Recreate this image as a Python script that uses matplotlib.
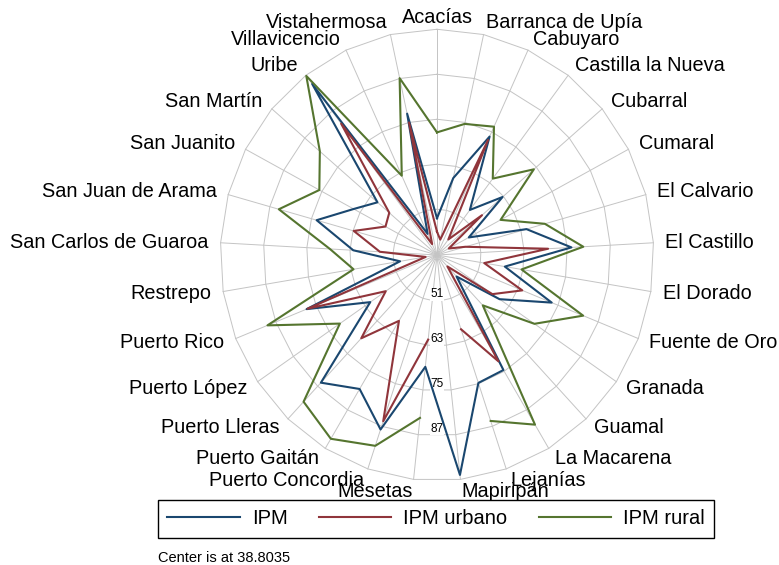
import numpy as np
import matplotlib.pyplot as plt

# municipios del Meta, en el orden del gráfico (sentido horario desde arriba)
municipios = ["Acacías", "Barranca de Upía", "Cabuyaro", "Castilla la Nueva", "Cubarral",
              "Cumaral", "El Calvario", "El Castillo", "El Dorado", "Fuente de Oro",
              "Granada", "Guamal", "La Macarena", "Lejanías", "Mapiripán", "Mesetas",
              "Puerto Concordia", "Puerto Gaitán", "Puerto Lleras", "Puerto López",
              "Puerto Rico", "Restrepo", "San Carlos de Guaroa", "San Juan de Arama",
              "San Juanito", "San Martín", "Uribe", "Villavicencio", "Vistahermosa"]

ipm = [48.6, 59.8, 73.6, 53.9, 62.7, 48.8, 64.6, 76.2, 57.9, 73.1,
       59.8, 46.7, 74.6, 74.8, 97.8, 68.8, 87.9, 80.5, 85.7, 61.2,
       77.8, 49.2, 62.1, 73.5, 65.0, 60.5, 96.1, 45.0, 77.4]
ipm_urbano = [45.0, 43.0, 72.6, 44.0, 55.2, 42.5, 47.0, 69.7, 52.1, 64.3,
              57.4, 43.0, 71.9, 59.7, np.nan, 61.5, 85.6, 59.3, 69.4, 56.0,
              77.5, 42.0, 54.7, 62.8, 55.0, 56.2, 82.8, 42.0, 75.0]
ipm_rural = [71.5, 74.6, 76.5, 64.4, 74.1, 58.8, 69.9, 79.5, 62.6, 82.5,
             71.5, 57.3, 91.6, 85.5, np.nan, 82.5, 92.5, 96.0, 92.7, 71.4,
             89.5, 62.3, 68.6, 84.4, 75.8, 81.5, 98.8, 62.1, 87.1]

centro = 38.8035
anillos = [51, 63, 75, 87, 99]

plt.rcParams['font.family'] = ['Liberation Sans', 'DejaVu Sans']

n = len(municipios)
ang = 2 * np.pi * np.arange(n) / n


def xy(valores, cerrar=True):
    r = np.asarray(valores, dtype=float) - centro
    a = ang
    if cerrar:
        r = np.append(r, r[0])
        a = np.append(ang, ang[0])
    return r * np.sin(a), r * np.cos(a)


fig = plt.figure(figsize=(7.79, 5.65), dpi=100)
ax = fig.add_axes([0, 0, 1, 1])
ax.set_xlim(-437 / 3.6, 342 / 3.6)
ax.set_ylim(-310 / 3.75, 255 / 3.75)
ax.axis('off')

gris = '#c4c4c4'
R = anillos[-1] - centro
for a in ang:
    ax.plot([0, R * np.sin(a)], [0, R * np.cos(a)], color=gris, lw=0.7, zorder=1)
for v in anillos:
    x, y = xy([v] * n)
    ax.plot(x, y, color=gris, lw=0.7, zorder=1)
for v in anillos[:-1]:
    ax.annotate(str(v), xy=(0, -(v - centro) * np.cos(np.pi / n)), xytext=(0, 6),
                textcoords='offset pixels', ha='center', va='center', fontsize=8.5,
                bbox=dict(facecolor='white', edgecolor='none', pad=0.5), zorder=2)

series = [(ipm, '#1a476f', 'IPM'), (ipm_urbano, '#90353b', 'IPM urbano'),
          (ipm_rural, '#55752f', 'IPM rural')]
for vals, color, nombre in series:
    x, y = xy(vals)
    ax.plot(x, y, color=color, lw=1.5, label=nombre, zorder=3)

for a, nombre in zip(ang, municipios):
    s, c = np.sin(a), np.cos(a)
    ha = 'left' if s > 0.01 else ('right' if s < -0.01 else 'center')
    ax.annotate(nombre, xy=(R * s, R * c), xytext=(12 * s, 12 * c),
                textcoords='offset pixels', ha=ha, va='center', fontsize=14.3,
                annotation_clip=False)

fig.legend(loc='center', bbox_to_anchor=(436 / 779, 1 - 519 / 565), ncol=3,
           fontsize=14.5, frameon=True, fancybox=False, edgecolor='black',
           framealpha=1, handlelength=3.6, handletextpad=0.6, columnspacing=1.55,
           borderpad=0.45)
fig.text(158 / 779, 1 - 558 / 565, "Center is at 38.8035", fontsize=10.5, va='center')

fig.savefig('out.png', dpi=100)
